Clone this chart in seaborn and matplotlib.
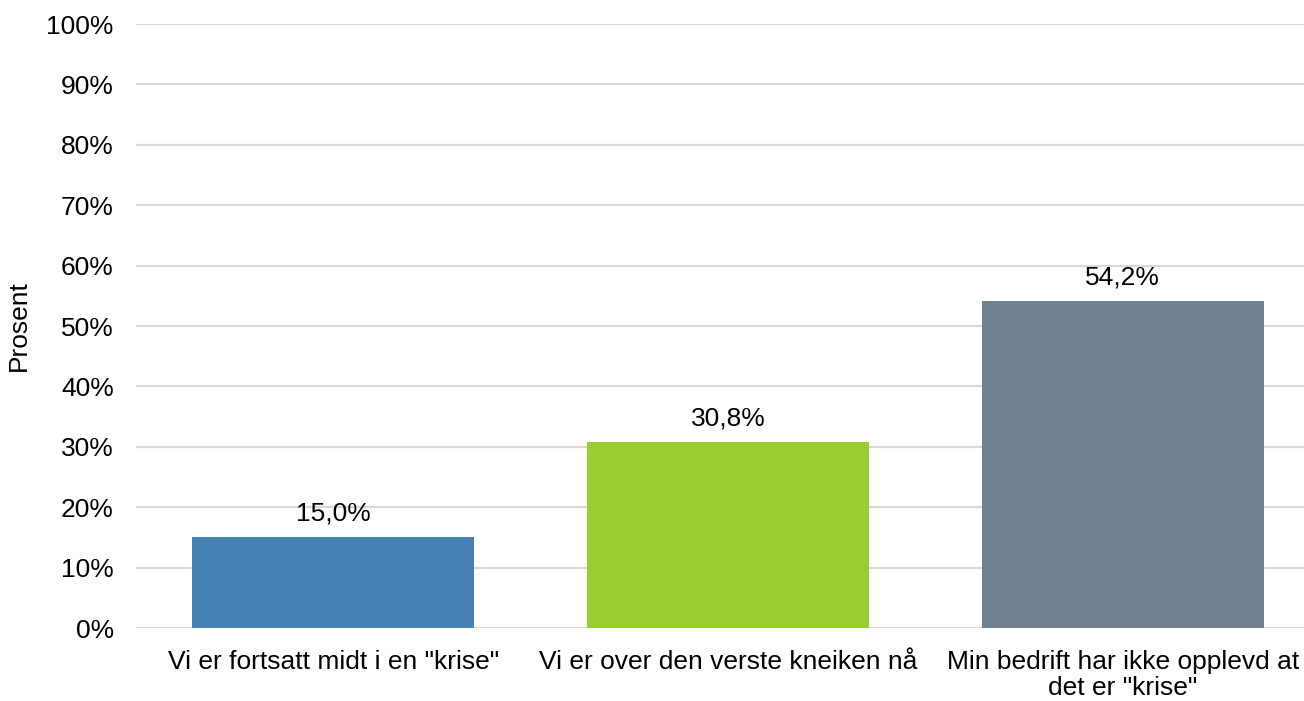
import pandas as pd
import seaborn as sns
import matplotlib.pyplot as plt

sns.set_style("white")
plt.rcParams['font.family'] = ['Liberation Sans', 'DejaVu Sans']

categories = ['Vi er fortsatt midt i en "krise"',
              'Vi er over den verste kneiken nå',
              'Min bedrift har ikke opplevd at\ndet er "krise"']
values = [15.0, 30.8, 54.2]
colors = ['#4682B4', '#9ACD32', '#708090']

df = pd.DataFrame({'kategori': categories, 'prosent': values})

fig = plt.figure(figsize=(13.04, 7.01), dpi=100)
ax = fig.add_axes([136 / 1304, 73 / 701, 1184 / 1304, 604 / 701])

sns.barplot(data=df, x='kategori', y='prosent', hue='kategori',
            palette=colors, width=0.715, saturation=1, legend=False,
            linewidth=0, ax=ax)

# value labels above the bars
for i, v in enumerate(values):
    ax.text(i, v + 3.9, f"{v:.1f}%".replace('.', ','), ha='center', va='center',
            fontsize=19, color='#000000')

ax.set_ylim(0, 100)
ax.set_xlim(-0.5, 2.5)
ax.set_yticks(range(0, 101, 10))
ax.set_yticklabels([f"{t}%" for t in range(0, 101, 10)])
ax.yaxis.grid(True, color='#d9d9d9', linewidth=1.6)
ax.set_axisbelow(True)
for s in ax.spines.values():
    s.set_visible(False)

ax.tick_params(axis='both', labelsize=19, length=0, colors='#000000')
ax.tick_params(axis='y', pad=16)
ax.tick_params(axis='x', pad=16)
for lab in ax.get_xticklabels():
    lab.set_linespacing(1.08)
ax.set_xlabel('')
ax.set_ylabel('Prosent', fontsize=19, labelpad=11, color='#000000')

fig.savefig('out.png', dpi=100)
